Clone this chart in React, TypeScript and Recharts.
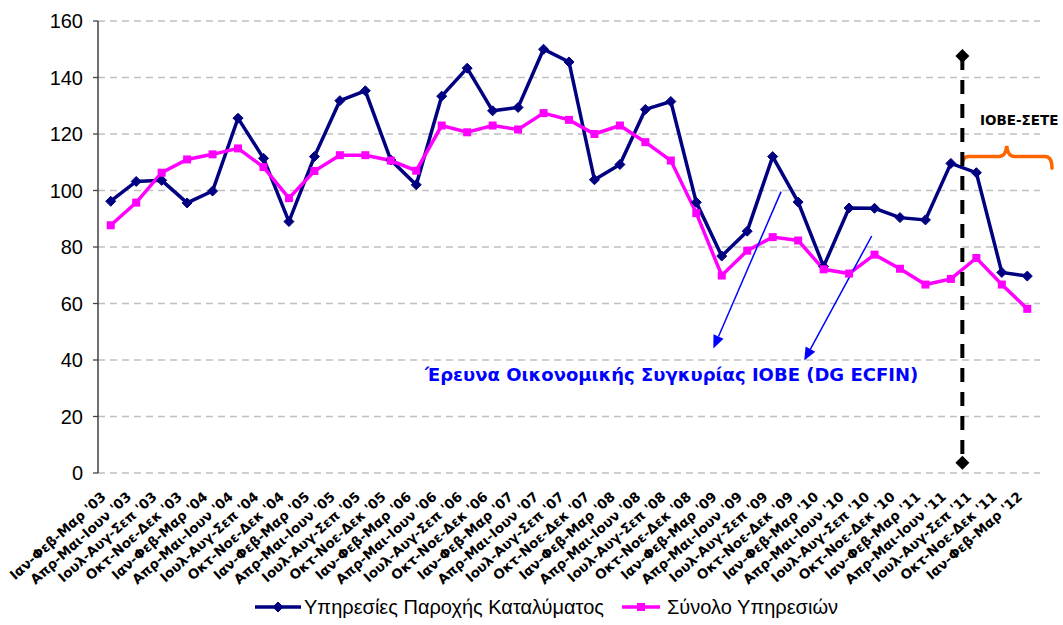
import React from 'react';
import {
  LineChart,
  Line,
  XAxis,
  YAxis,
  CartesianGrid,
  Legend,
  ReferenceLine,
  ReferenceDot,
  ReferenceArea,
} from 'recharts';

// quarter labels, '03 .. '12
const QUARTERS = ['Ιαν-Φεβ-Μαρ', 'Απρ-Μαι-Ιουν', 'Ιουλ-Αυγ-Σεπ', 'Οκτ-Νοε-Δεκ'];
const YEARS = ['03', '04', '05', '06', '07', '08', '09', '10', '11'];
const LABELS = [...YEARS.flatMap((y) => QUARTERS.map((q) => `${q} '${y}`)), "Ιαν-Φεβ-Μαρ '12"];

// Υπηρεσίες Παροχής Καταλύματος
const ACCOMMODATION = [
  96.2, 103.2, 103.6, 95.6, 99.8, 125.6, 111.4, 89, 112, 131.8, 135.3, 110.8, 102,
  133.4, 143.3, 128.2, 129.4, 150, 145.5, 103.8, 109.2, 128.7, 131.5, 95.8, 76.8,
  85.6, 112, 95.9, 73.1, 93.8, 93.7, 90.4, 89.6, 109.6, 106.3, 71, 69.7,
];

// Σύνολο Υπηρεσιών
const ALL_SERVICES = [
  87.7, 95.7, 106.3, 111, 112.8, 114.9, 108.3, 97.3, 106.9, 112.5, 112.5, 110.6, 107,
  123, 120.6, 123, 121.6, 127.4, 125, 120, 123, 117.1, 110.6, 92, 69.9, 78.7, 83.5,
  82.3, 72.1, 70.6, 77.3, 72.3, 66.7, 68.7, 76.1, 66.7, 58.1,
];

const Y_TICKS = [0, 20, 40, 60, 80, 100, 120, 140, 160];

const NAVY = '#000080';
const PINK = '#FF00FF';
const ORANGE = '#FF6600';
const ARROW = '#0000FF';

const data = LABELS.map((label, i) => ({
  i,
  label,
  acc: ACCOMMODATION[i],
  total: ALL_SERVICES[i],
}));

const diamondPath = (cx: number, cy: number, s: number) =>
  `${cx},${cy - s} ${cx + s},${cy} ${cx},${cy + s} ${cx - s},${cy}`;

// recharts hands its own fill to dots, so colours are fixed here
const NavyDiamond = ({ cx, cy }: any) =>
  cx == null ? null : <polygon points={diamondPath(cx, cy, 5)} fill={NAVY} stroke={NAVY} strokeWidth={1} />;

const BlackDiamond = ({ cx, cy }: any) =>
  cx == null ? null : <polygon points={diamondPath(cx, cy, 7)} fill="#000" />;

const PinkSquare = ({ cx, cy }: any) =>
  cx == null ? null : <rect x={cx - 4} y={cy - 4} width={8} height={8} fill={PINK} />;

const XTick = ({ x, y, payload }: any) => (
  <g transform={`translate(${x - 4},${y + 25})`}>
    <text
      textAnchor="end"
      transform="rotate(-42)"
      fontFamily="'DejaVu Sans', Verdana, sans-serif"
      fontWeight="bold"
      fontSize={13.5}
      fill="#000"
    >
      {LABELS[payload.value]}
    </text>
  </g>
);

const Arrow = ({ x1, y1, x2, y2 }: any) => {
  const ang = Math.atan2(y2 - y1, x2 - x1);
  const len = 13;
  const half = 5.5;
  const bx = x2 - len * Math.cos(ang);
  const by = y2 - len * Math.sin(ang);
  const px = -Math.sin(ang) * half;
  const py = Math.cos(ang) * half;
  return (
    <g>
      <line x1={x1} y1={y1} x2={bx} y2={by} stroke={ARROW} strokeWidth={1.5} />
      <polygon points={`${x2},${y2} ${bx + px},${by + py} ${bx - px},${by - py}`} fill={ARROW} />
    </g>
  );
};

const Brace = ({ x, y, width, height }: any) => {
  const mid = y + height * 0.48;
  const tip = x + width * 0.495;
  const d = [
    `M ${x} ${y + height * 0.78}`,
    `Q ${x + 1} ${mid} ${x + 6} ${mid}`,
    `L ${tip - 8} ${mid}`,
    `Q ${tip - 1} ${mid} ${tip} ${y}`,
    `Q ${tip + 1} ${mid} ${tip + 8} ${mid}`,
    `L ${x + width - 7} ${mid}`,
    `Q ${x + width} ${mid} ${x + width} ${y + height}`,
  ].join(' ');
  return <path d={d} fill="none" stroke={ORANGE} strokeWidth={3.5} strokeLinecap="round" />;
};

const LegendRow = () => (
  <div
    style={{
      position: 'absolute',
      left: 255,
      top: 10,
      display: 'flex',
      alignItems: 'center',
      whiteSpace: 'nowrap',
      fontFamily: "'Liberation Sans', Arial, sans-serif",
      fontSize: 20,
      lineHeight: '24px',
      color: '#000',
    }}
  >
    <svg width={46} height={12}>
      <line x1={0} y1={6} x2={46} y2={6} stroke={NAVY} strokeWidth={3.5} />
      <NavyDiamond cx={23} cy={6} />
    </svg>
    <span style={{ marginLeft: 3, marginRight: 18 }}>Υπηρεσίες Παροχής Καταλύματος</span>
    <svg width={38} height={12}>
      <line x1={0} y1={6} x2={38} y2={6} stroke={PINK} strokeWidth={3.5} />
      <PinkSquare cx={19} cy={6} />
    </svg>
    <span style={{ marginLeft: 7 }}>Σύνολο Υπηρεσιών</span>
  </div>
);

export default function App() {
  return (
    <div style={{ position: 'absolute', left: 0, top: 0, background: '#fff' }}>
      <LineChart
        width={1063}
        height={625}
        data={data}
        margin={{ top: 21, right: 23, left: 0, bottom: 0 }}
      >
        <CartesianGrid vertical={false} stroke="#C0C0C0" strokeDasharray="7 5" strokeWidth={1.3} />
        <XAxis
          dataKey="i"
          type="number"
          domain={[-0.5, 36.5]}
          ticks={LABELS.map((_, i) => i)}
          interval={0}
          axisLine={false}
          tickLine={false}
          tickSize={0}
          tickMargin={0}
          height={112}
          tick={<XTick />}
        />
        <YAxis
          domain={[0, 160]}
          ticks={Y_TICKS}
          width={98}
          axisLine={{ stroke: '#222', strokeWidth: 1.3 }}
          tickLine={{ stroke: '#444', strokeWidth: 1.3 }}
          tickSize={5}
          tickMargin={10}
          tick={{ fill: '#000', fontSize: 20, fontFamily: "'Liberation Sans', Arial, sans-serif" }}
        />
        <Legend
          verticalAlign="bottom"
          height={40}
          wrapperStyle={{ left: 0, width: 1063, height: 40 }}
          content={() => <LegendRow />}
        />
        <Line
          dataKey="acc"
          name="Υπηρεσίες Παροχής Καταλύματος"
          stroke={NAVY}
          strokeWidth={3.5}
          dot={<NavyDiamond />}
          activeDot={false}
          isAnimationActive={false}
        />
        <Line
          dataKey="total"
          name="Σύνολο Υπηρεσιών"
          stroke={PINK}
          strokeWidth={3.5}
          dot={<PinkSquare />}
          activeDot={false}
          isAnimationActive={false}
        />
        {/* ΙΟΒΕ-ΣΕΤΕ split marker */}
        <ReferenceLine
          segment={[
            { x: 33.45, y: 147.6 },
            { x: 33.45, y: 3.6 },
          ]}
          stroke="#000"
          strokeWidth={4}
          strokeDasharray="14 10"
          ifOverflow="visible"
        />
        <ReferenceDot x={33.45} y={147.6} r={7} ifOverflow="visible" shape={(p: any) => <BlackDiamond cx={p.cx} cy={p.cy} />} />
        <ReferenceDot x={33.45} y={3.6} r={7} ifOverflow="visible" shape={(p: any) => <BlackDiamond cx={p.cx} cy={p.cy} />} />
        <ReferenceArea x1={33.45} x2={36.97} y1={107.9} y2={115.8} ifOverflow="visible" shape={<Brace />} />
        <ReferenceDot
          x={34.14}
          y={123.2}
          r={1}
          ifOverflow="visible"
          shape={(p: any) => (
            <text x={p.cx} y={p.cy} fontFamily="'DejaVu Sans', Verdana, sans-serif" fontWeight="bold" fontSize={13.5} fill="#000">
              ΙΟΒΕ-ΣΕΤΕ
            </text>
          )}
        />
        {/* arrows pointing to the IOBE survey label */}
        <ReferenceLine segment={[{ x: 26.33, y: 99.6 }, { x: 23.67, y: 44.1 }]} ifOverflow="visible" shape={<Arrow />} />
        <ReferenceLine segment={[{ x: 29.89, y: 83.9 }, { x: 27.24, y: 39.8 }]} ifOverflow="visible" shape={<Arrow />} />
        <ReferenceDot
          x={22.03}
          y={34.7}
          r={1}
          ifOverflow="visible"
          shape={(p: any) => (
            <text
              x={p.cx}
              y={p.cy + 6}
              textAnchor="middle"
              fontFamily="'DejaVu Sans', Verdana, sans-serif"
              fontWeight="bold"
              fontSize={18}
              fill={ARROW}
            >
              Έρευνα Οικονομικής Συγκυρίας ΙΟΒΕ (DG ECFIN)
            </text>
          )}
        />
      </LineChart>
    </div>
  );
}
